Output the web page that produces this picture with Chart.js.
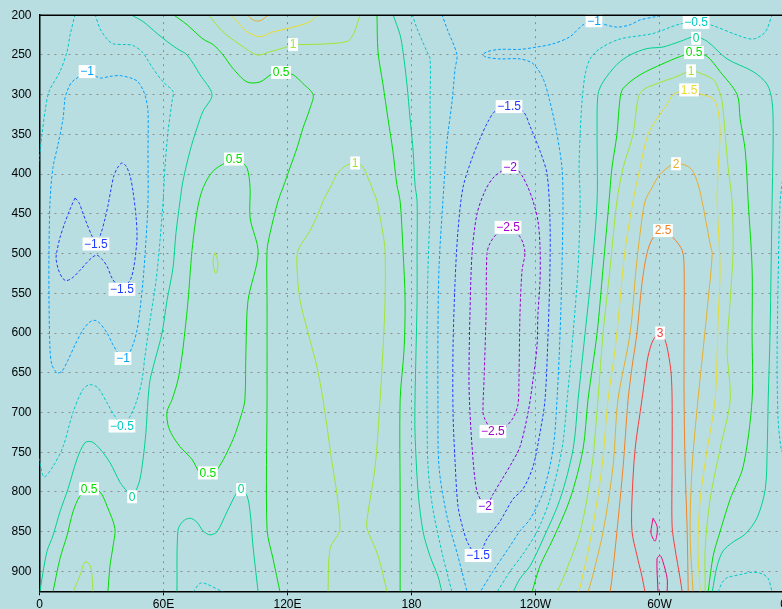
<!DOCTYPE html>
<html>
<head>
<meta charset="utf-8">
<script src="https://cdn.jsdelivr.net/npm/chart.js@4/dist/chart.umd.min.js"></script>
<style>
  html, body { margin: 0; padding: 0; background: #b9dee1; overflow: hidden; }
  #wrap { position: relative; width: 800px; height: 609px; }
</style>
</head>
<body>
<div id="wrap"><canvas id="chart" width="800" height="609"></canvas></div>
<script>
// axis ticks
const lonTicks = [0, 60, 120, 180, 240, 300, 360];
const lonLabels = ['0', '60E', '120E', '180', '120W', '60W', '0'];
const presTicks = [200, 250, 300, 350, 400, 450, 500, 550, 600, 650, 700, 750, 800, 850, 900];

// contour levels and GrADS rainbow colours
const levels = [-2.5, -2, -1.5, -1, -0.5, 0, 0.5, 1, 1.5, 2, 2.5, 3, 3.5];
const levelColors = ['#a000c8', '#8200dc', '#1e3cff', '#00a0ff', '#00c8c8', '#00d28c',
  '#00dc00', '#a0e632', '#e6dc32', '#e6af2d', '#f08228', '#fa3c3c', '#f00082'];

// contour lines as [lon, hPa] pairs, one array per level
const cM25 = [
  [[227.2,467],[221.4,475],[218.0,487],[216.5,500],[216.1,575],[215.1,659],[214.6,700],[215.6,709],[218.0,719],[221.4,725],[225.2,719],[229.1,707],[231.5,690],[232.0,659],[232.5,575],[233.5,521],[234.9,500],[234.0,487],[232.5,479],[230.1,471],[227.2,467]]
];
const cM20 = [
  [[228.6,392],[223.8,396],[219.4,405],[215.6,421],[211.7,450],[209.3,500],[208.3,575],[207.8,659],[208.3,700],[209.3,743],[210.7,784],[212.2,803],[216.1,818],[219.4,803],[223.8,784],[228.6,763],[232.5,743],[236.4,700],[238.8,659],[240.7,617],[241.2,575],[242.2,534],[242.2,492],[241.2,459],[238.8,434],[236.4,417],[233.5,402],[231.1,394],[228.6,392]]
];
const cM15 = [
  [[227.2,315],[220.4,321],[217.0,334],[213.2,355],[209.3,380],[204.9,417],[202.5,471],[201.1,534],[200.1,618],[200.1,700],[201.1,763],[202.5,818],[204.9,846],[207.4,865],[212.2,881],[216.5,859],[222.8,837],[229.1,809],[234.0,796],[238.8,768],[242.2,725],[244.6,684],[246.1,600],[247.0,518],[247.0,459],[245.6,400],[242.2,371],[237.4,340],[234.0,321],[227.2,315]],
  [[17.2,430],[14.8,444],[12.3,461],[9.9,480],[8.5,496],[8.0,506],[9.0,519],[10.9,530],[12.8,534],[15.7,531],[19.6,521],[23.0,511],[25.9,504],[27.8,502],[30.2,507],[32.7,516],[35.1,531],[38.0,541],[39.9,544],[42.3,539],[44.3,531],[45.7,516],[46.7,496],[47.2,478],[46.7,453],[45.2,421],[43.8,402],[41.9,390],[39.9,386],[38.0,391],[36.0,402],[34.6,419],[33.1,440],[31.7,456],[29.8,474],[27.3,488],[25.4,478],[23.0,463],[21.0,449],[19.1,436],[17.2,430]]
];
const cM10 = [
  [[23.0,271],[15.7,284],[13.3,296],[12.3,305],[11.4,330],[9.0,362],[6.5,392],[5.1,434],[4.6,496],[4.6,559],[5.1,621],[6.0,640],[8.5,650],[10.9,648],[13.8,634],[17.2,615],[21.0,596],[24.4,586],[26.9,584],[29.3,588],[32.7,600],[35.6,615],[38.0,625],[40.4,632],[42.8,628],[45.2,615],[47.2,596],[48.6,571],[50.1,534],[51.5,484],[52.5,434],[52.5,371],[52.5,321],[51.5,305],[50.1,294],[47.7,284],[45.2,280],[39.0,276],[34.1,277],[29.3,279],[23.0,271]],
  [[194.7,199],[197.2,217],[202.0,250],[201.1,267],[199.6,309],[197.2,359],[195.2,434],[193.3,518],[192.8,600],[192.8,684],[193.3,768],[197.2,831],[202.5,881],[206.9,926]],
  [[302.7,199],[297.8,202],[290.6,206],[285.8,212],[279.4,215],[272.7,211],[268.3,206],[263.0,212],[256.7,227],[248.5,236],[240.7,240],[232.5,243],[222.8,243],[216.5,246],[214.6,250],[216.5,253],[222.8,255],[232.5,255],[238.8,261],[243.7,280],[247.0,309],[250.4,350],[252.8,392],[253.3,434],[252.8,518],[251.9,600],[250.4,684],[248.5,746],[243.7,800],[237.4,834],[232.5,849],[227.7,868],[219.4,900],[213.2,926]]
];
const cM05 = [
  [[17.2,199],[14.8,225],[13.3,246],[9.9,271],[4.6,296],[2.7,321],[1.2,350],[-0.5,390]],
  [[26.9,199],[29.3,217],[32.7,230],[35.6,236],[42.3,237],[45.2,238],[49.6,246],[54.9,267],[59.8,284],[64.6,296],[64.1,309],[62.2,346],[60.7,392],[59.8,434],[58.3,484],[56.4,534],[53.5,584],[51.0,630],[49.6,659],[47.2,684],[43.8,705],[39.9,717],[36.5,705],[32.7,688],[28.3,669],[24.4,665],[21.0,671],[16.2,700],[11.4,743],[6.5,768],[2.2,781],[0.2,763],[-0.5,753]],
  [[74.3,926],[77.7,915],[81.0,916],[88.8,926]],
  [[180.3,199],[182.7,217],[187.5,246],[189.0,255],[189.0,309],[189.0,434],[188.0,518],[187.5,600],[187.5,684],[188.0,768],[190.4,822],[195.2,881],[199.6,926]],
  [[354.5,199],[351.2,221],[345.3,230],[337.6,225],[324.5,212],[317.2,210],[310.0,211],[296.9,223],[280.9,230],[271.2,242],[266.4,255],[264.0,275],[262.5,309],[261.6,350],[261.1,392],[261.6,434],[260.6,518],[258.2,600],[255.3,684],[252.8,746],[247.0,809],[240.7,850],[234.0,878],[227.7,900],[221.4,926]],
  [[360.5,390],[358.4,434],[357.4,534],[356.9,634],[357.4,709],[358.9,746],[360.5,756]],
  [[328.4,926],[330.3,914],[332.7,908],[339.0,904],[344.8,901],[349.7,903],[352.6,909],[354.5,926]]
];
const c00 = [
  [[43.8,199],[50.1,208],[56.9,223],[61.7,233],[66.5,242],[71.4,250],[77.7,275],[83.5,300],[79.1,321],[76.2,342],[72.8,371],[69.4,409],[68.0,434],[66.0,475],[64.6,518],[61.7,559],[59.3,600],[55.9,634],[53.5,659],[52.5,684],[51.5,725],[50.1,759],[48.6,784],[46.7,798],[44.8,805],[42.3,799],[39.0,788],[34.1,763],[29.3,746],[25.4,737],[22.0,738],[18.1,759],[13.8,796],[9.9,825],[6.5,855],[3.6,875],[1.2,909],[0.2,926]],
  [[66.5,926],[67.0,848],[69.4,837],[72.8,833],[76.2,838],[79.1,849],[82.5,854],[85.9,850],[90.7,825],[95.6,800],[97.5,796],[100.4,805],[101.9,825],[103.3,868],[105.8,926]],
  [[171.0,199],[174.5,225],[175.9,246],[177.8,287],[179.3,330],[180.8,371],[181.7,413],[182.7,434],[182.7,496],[182.7,559],[182.2,621],[181.7,684],[181.7,725],[183.2,800],[185.6,850],[189.0,881],[192.8,906],[194.7,926]],
  [[229.1,926],[232.5,909],[237.4,893],[243.7,859],[251.9,809],[258.2,746],[260.6,684],[264.0,600],[267.3,518],[269.8,434],[269.8,350],[270.2,300],[272.7,284],[279.4,262],[285.8,250],[294.0,242],[301.7,240],[310.0,233],[317.2,227],[323.1,233],[332.7,255],[345.3,271],[352.1,287],[354.5,309],[355.0,350],[354.5,434],[354.0,518],[353.5,600],[352.6,684],[352.1,746],[351.2,796],[347.3,832],[341.5,853],[335.6,863],[330.8,874],[327.9,893],[325.5,926]]
];
const c05 = [
  [[64.6,199],[71.4,212],[79.1,230],[84.0,237],[88.8,250],[93.6,267],[100.4,284],[106.7,284],[112.5,274],[116.9,272],[122.7,275],[127.5,286],[132.4,300],[130.9,317],[127.5,342],[124.6,367],[121.2,392],[117.8,417],[115.4,434],[111.5,475],[110.1,496],[110.1,559],[110.1,684],[110.1,847],[113.0,884],[116.4,926]],
  [[93.6,381],[89.8,386],[84.9,394],[81.5,405],[78.6,421],[76.7,440],[75.2,465],[73.8,496],[72.8,528],[71.9,559],[70.4,597],[69.0,628],[67.0,659],[64.1,684],[61.7,699],[62.2,716],[64.1,728],[68.0,743],[73.8,759],[77.7,776],[81.5,776],[85.9,772],[93.6,734],[98.0,700],[99.4,684],[99.9,621],[100.9,559],[105.8,499],[101.9,455],[101.9,417],[100.4,392],[97.0,384],[93.6,381]],
  [[6.5,926],[9.9,884],[13.3,855],[16.2,825],[19.6,805],[24.4,796],[29.3,800],[32.7,818],[36.5,846],[35.6,868],[34.1,893],[33.1,926]],
  [[163.3,199],[163.8,246],[166.2,287],[168.6,330],[171.0,371],[172.9,413],[174.5,434],[175.9,496],[176.9,559],[176.4,621],[174.5,684],[174.5,809],[174.5,926]],
  [[238.3,926],[242.2,893],[248.5,859],[256.7,809],[263.0,746],[265.4,684],[269.8,600],[272.7,518],[275.6,434],[277.0,392],[279.4,350],[280.9,305],[282.4,292],[290.6,275],[301.7,261],[310.0,252],[316.7,247],[323.1,252],[329.3,271],[337.6,300],[339.0,330],[341.5,371],[342.9,434],[344.8,518],[344.8,600],[344.8,684],[340.5,768],[334.2,809],[329.3,850],[326.0,880],[323.5,926]]
];
const c10 = [
  [[81.5,199],[88.8,221],[97.0,237],[105.3,250],[111.5,246],[119.7,240],[122.7,237],[127.5,237],[139.1,236],[148.8,233],[151.7,225],[154.1,208],[155.1,199]],
  [[139.6,926],[140.6,871],[145.4,846],[140.6,746],[137.2,684],[134.3,643],[130.9,609],[126.1,559],[124.6,518],[125.1,496],[130.9,471],[134.8,450],[137.2,434],[140.6,417],[144.0,400],[147.8,390],[152.7,386],[156.1,390],[159.0,405],[161.4,421],[163.3,434],[166.2,475],[167.2,496],[167.2,559],[166.2,621],[164.8,684],[162.4,768],[158.5,834],[158.5,846],[163.8,880],[168.2,926]],
  [[16.2,926],[19.6,905],[22.0,888],[24.4,892],[25.4,905],[25.9,926]],
  [[84.9,499],[85.9,505],[86.4,515],[85.4,525],[84.4,519],[84.0,507],[84.9,499]],
  [[250.4,926],[253.3,909],[261.6,850],[267.3,768],[270.2,684],[272.7,600],[276.1,518],[279.4,434],[282.4,392],[287.2,350],[289.6,305],[292.0,294],[298.8,286],[308.5,277],[315.3,270],[319.7,273],[326.0,281],[328.4,292],[330.3,309],[331.8,350],[333.2,392],[335.1,434],[335.6,496],[334.2,559],[332.7,621],[334.2,684],[329.3,746],[324.5,809],[322.1,871],[322.1,926]]
];
const c15 = [
  [[92.2,199],[97.0,212],[100.4,221],[106.7,227],[113.0,221],[122.7,215],[130.9,208],[134.8,199]],
  [[260.6,926],[261.6,920],[267.3,850],[272.2,768],[275.1,684],[278.5,621],[280.9,559],[283.3,496],[287.2,434],[290.6,392],[294.4,350],[298.8,330],[303.7,312],[306.6,300],[313.9,294],[320.6,300],[326.0,305],[328.4,321],[329.3,350],[328.4,392],[327.9,434],[329.3,518],[328.4,580],[326.9,684],[323.1,746],[319.7,809],[318.6,871],[319.7,926]]
];
const c20 = [
  [[100.4,199],[103.3,206],[106.7,207],[110.1,201],[111.1,199]],
  [[265.4,926],[267.3,909],[272.7,850],[277.5,768],[279.9,684],[285.8,600],[288.7,518],[290.6,475],[293.0,434],[296.4,417],[300.3,400],[307.5,387],[314.8,392],[318.2,409],[320.6,434],[324.5,488],[325.5,500],[323.5,559],[321.1,621],[318.6,684],[315.8,768],[314.8,850],[316.2,926]]
];
const c25 = [
  [[276.1,926],[277.0,909],[279.4,850],[282.4,768],[284.8,684],[286.7,643],[289.1,600],[291.5,538],[294.0,499],[296.9,480],[301.7,471],[306.6,480],[311.0,496],[311.9,518],[311.9,600],[311.9,684],[312.4,768],[313.4,850],[313.9,926]]
];
const c30 = [
  [[293.0,926],[291.5,906],[289.1,880],[286.7,850],[286.7,809],[288.2,746],[291.5,684],[293.0,655],[294.4,630],[296.9,609],[300.3,600],[302.7,609],[304.2,625],[305.6,650],[306.1,684],[306.1,768],[306.1,843],[307.5,871],[310.0,909],[311.0,926]]
];
const c35 = [
  [[296.9,833],[298.8,843],[298.8,853],[297.8,862],[295.9,852],[296.4,840],[296.9,833]],
  [[299.3,926],[298.8,884],[300.3,880],[301.7,888],[303.7,909],[303.7,926]]
];
const contourSets = [cM25, cM20, cM15, cM10, cM05, c00, c05, c10, c15, c20, c25, c30, c35];

// contour labels: level, lon, pressure
const labelLevel = [0.5, -1, 1, 0.5, -1.5, -1.5, -1, -0.5, 0.5, 0.5, 0, 0, 1, -1.5, -2, -2.5, -2.5, -2, -1.5, -1, -0.5, 0, 0.5, 1, 1.5, 2, 2.5, 3];
const labelLon = [116.9, 23.0, 122.7, 94.1, 27.3, 39.9, 40.4, 39.9, 81.5, 24.0, 44.8, 97.5, 152.7, 227.2, 227.7, 226.7, 219.4, 215.6, 212.2, 268.3, 317.7, 317.7, 316.7, 315.3, 314.3, 308.0, 301.7, 300.3];
const labelPres = [272, 271, 237, 381, 488, 545, 632, 717, 776, 796, 806, 797, 386, 315, 391, 467, 724, 818, 880, 207, 209, 229, 247, 270, 294, 387, 471, 600];

const FONT = '"Liberation Sans", Arial, sans-serif';

function fmt(v) {
  return v < 0 ? '\u2212' + Math.abs(v) : String(v);
}

function buildDatasets() {
  const ds = [];
  contourSets.forEach((lines, i) => {
    lines.forEach(line => {
      ds.push({
        data: line.map(([lon, p]) => ({ x: lon, y: p })),
        borderColor: levelColors[i],
        borderWidth: 1,
        borderDash: levels[i] < 0 ? [3, 2] : [],
        pointRadius: 0,
        tension: 0.3,
        fill: false
      });
    });
  });
  return ds;
}

// white-boxed contour labels, GrADS style
const contourLabels = {
  id: 'contourLabels',
  afterDatasetsDraw(chart) {
    const { ctx, scales: { x, y } } = chart;
    ctx.save();
    ctx.font = '12px ' + FONT;
    ctx.textAlign = 'center';
    ctx.textBaseline = 'middle';
    labelLevel.forEach((lev, i) => {
      const px = x.getPixelForValue(labelLon[i]);
      const py = y.getPixelForValue(labelPres[i]);
      const txt = fmt(lev);
      const w = ctx.measureText(txt).width + 3;
      ctx.fillStyle = '#fff';
      ctx.fillRect(px - w / 2, py - 6.5, w, 13);
      ctx.fillStyle = levelColors[levels.indexOf(lev)];
      ctx.fillText(txt, px, py + 0.5);
    });
    ctx.restore();
  }
};

// top edge of the plot frame
const frameTop = {
  id: 'frameTop',
  afterDraw(chart) {
    const { ctx, chartArea: a } = chart;
    ctx.save();
    ctx.strokeStyle = '#000';
    ctx.lineWidth = 1.5;
    ctx.beginPath();
    ctx.moveTo(a.left, a.top);
    ctx.lineTo(a.right, a.top);
    ctx.stroke();
    ctx.restore();
  }
};

new Chart(document.getElementById('chart'), {
  type: 'line',
  data: { datasets: buildDatasets() },
  options: {
    responsive: false,
    animation: false,
    events: [],
    layout: { padding: { left: 0, top: 13.3, right: 16.5, bottom: 0 } },
    plugins: { legend: { display: false }, tooltip: { enabled: false } },
    scales: {
      x: {
        type: 'linear',
        min: 0,
        max: 360,
        afterBuildTicks: s => { s.ticks = lonTicks.map(v => ({ value: v })); },
        afterFit: s => { s.height = 17.7; },
        ticks: {
          autoSkip: false,
          maxRotation: 0,
          padding: 2,
          color: '#000',
          font: { family: FONT, size: 12 },
          callback: v => lonLabels[lonTicks.indexOf(v)]
        },
        grid: { color: '#8c8c8c', lineWidth: 1, tickLength: 4, tickColor: '#000', tickWidth: 1 },
        border: { color: '#000', width: 1.5, dash: [2, 5] }
      },
      y: {
        type: 'linear',
        reverse: true,
        min: 200,
        max: 925,
        afterBuildTicks: s => { s.ticks = presTicks.map(v => ({ value: v })); },
        afterFit: s => { s.width = 39.5; },
        ticks: {
          padding: 8,
          color: '#000',
          font: { family: FONT, size: 12 },
          callback: v => String(v)
        },
        grid: { color: '#8c8c8c', lineWidth: 1, drawTicks: false },
        border: { color: '#000', width: 1.5, dash: [2, 5] }
      }
    }
  },
  plugins: [contourLabels, frameTop]
});
</script>
</body>
</html>
